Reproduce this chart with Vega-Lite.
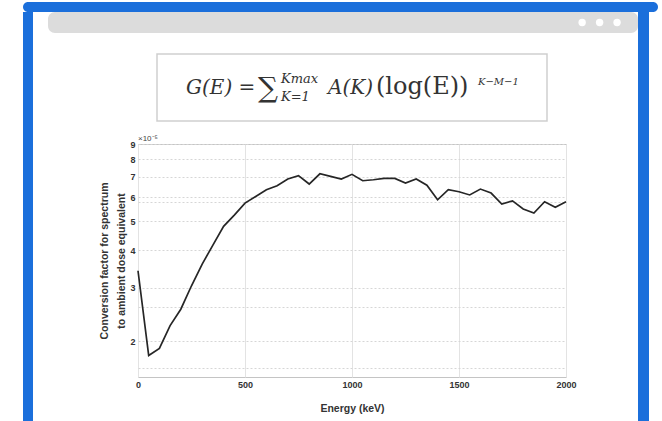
{
  "$schema": "https://vega.github.io/schema/vega-lite/v6.json",
  "background": "white",
  "padding": {"left": 23, "top": 2, "right": 0, "bottom": 0},
  "config": {
    "view": {"stroke": null},
    "font": "Liberation Sans",
    "concat": {"spacing": 0}
  },
  "spacing": 0,
  "vconcat": [
    {"width": 635, "height": 10, "view": {"fill": "#1b6fdb", "cornerRadius": 5}, "data": {"values": [{}]}, "mark": {"type": "point", "opacity": 0}},
    {
      "spacing": 0,
      "hconcat": [
        {"width": 10, "height": 409, "view": {"fill": "#1b6fdb"}, "data": {"values": [{}]}, "mark": {"type": "point", "opacity": 0}},
        {
          "spacing": 0,
          "vconcat": [
            {
              "spacing": 0,
              "hconcat": [
                {"width": 12, "height": 21, "data": {"values": [{}]}, "mark": {"type": "point", "opacity": 0}},
                {
                  "width": 590, "height": 21,
                  "view": {"fill": "#dcdcdc", "cornerRadius": 7},
                  "data": {"values": [{"dot": 1}, {"dot": 2}, {"dot": 3}]},
                  "mark": {"type": "circle", "color": "white", "opacity": 1, "size": 55},
                  "encoding": {"x": {"field": "dot", "type": "quantitative", "scale": {"domain": [-29.6, 4.2], "nice": false, "zero": false}, "axis": null}}
                }
              ]
            },
            {"width": 1, "height": 20, "data": {"values": [{}]}, "mark": {"type": "point", "opacity": 0}},
            {
              "spacing": 0,
              "hconcat": [
                {"width": 120, "height": 67, "data": {"values": [{}]}, "mark": {"type": "point", "opacity": 0}},
                {
                  "width": 390, "height": 67,
                  "view": {"stroke": "#cfcfcf", "strokeWidth": 1.5},
                  "data": {"values": [{}]},
                  "layer": [
                    {"mark": {"type": "text", "text": "G(E) =", "align": "left", "baseline": "alphabetic", "dx": -166, "dy": 6.5, "font": "DejaVu Serif", "fontStyle": "italic", "fontSize": 20, "color": "#333"}},
                    {"mark": {"type": "text", "text": "∑", "align": "left", "baseline": "alphabetic", "dx": -94, "dy": 9, "font": "DejaVu Serif", "fontSize": 28, "color": "#333"}},
                    {"mark": {"type": "text", "text": "Kmax", "align": "left", "baseline": "alphabetic", "dx": -71, "dy": -4.5, "font": "DejaVu Serif", "fontStyle": "italic", "fontSize": 13, "color": "#333"}},
                    {"mark": {"type": "text", "text": "K=1", "align": "left", "baseline": "alphabetic", "dx": -71, "dy": 13.5, "font": "DejaVu Serif", "fontStyle": "italic", "fontSize": 13, "color": "#333"}},
                    {"mark": {"type": "text", "text": "A(K)", "align": "left", "baseline": "alphabetic", "dx": -24, "dy": 6.5, "font": "DejaVu Serif", "fontStyle": "italic", "fontSize": 20, "color": "#333"}},
                    {"mark": {"type": "text", "text": "(log(E))", "align": "left", "baseline": "alphabetic", "dx": 24, "dy": 6.5, "font": "DejaVu Serif", "fontSize": 24, "color": "#333"}},
                    {"mark": {"type": "text", "text": "K−M−1", "align": "left", "baseline": "alphabetic", "dx": 126, "dy": -3, "font": "DejaVu Serif", "fontStyle": "italic", "fontSize": 10, "color": "#333"}}
                  ]
                }
              ]
            },
            {"width": 1, "height": 12, "data": {"values": [{}]}, "mark": {"type": "point", "opacity": 0}},
            {
              "spacing": 0,
              "hconcat": [
                {"width": 63, "height": 1, "data": {"values": [{}]}, "mark": {"type": "point", "opacity": 0}},
                {
                  "width": 428, "height": 233,
                  "view": {"stroke": "#c4c4c4"},
                  "title": {"text": "×10⁻⁵", "anchor": "start", "frame": "group", "fontSize": 8, "fontWeight": "normal", "offset": -3, "color": "#444"},
                  "data": {"values": [
                    {"energy": 0, "factor": 3.42},
                    {"energy": 50, "factor": 1.79},
                    {"energy": 100, "factor": 1.89},
                    {"energy": 150, "factor": 2.25},
                    {"energy": 200, "factor": 2.55},
                    {"energy": 250, "factor": 3.05},
                    {"energy": 300, "factor": 3.6},
                    {"energy": 350, "factor": 4.16},
                    {"energy": 400, "factor": 4.8},
                    {"energy": 450, "factor": 5.23},
                    {"energy": 500, "factor": 5.73},
                    {"energy": 550, "factor": 6.03},
                    {"energy": 600, "factor": 6.35},
                    {"energy": 650, "factor": 6.54},
                    {"energy": 700, "factor": 6.89},
                    {"energy": 750, "factor": 7.07},
                    {"energy": 800, "factor": 6.63},
                    {"energy": 850, "factor": 7.17},
                    {"energy": 900, "factor": 7.03},
                    {"energy": 950, "factor": 6.89},
                    {"energy": 1000, "factor": 7.14},
                    {"energy": 1050, "factor": 6.8},
                    {"energy": 1100, "factor": 6.85},
                    {"energy": 1150, "factor": 6.92},
                    {"energy": 1200, "factor": 6.92},
                    {"energy": 1250, "factor": 6.68},
                    {"energy": 1300, "factor": 6.89},
                    {"energy": 1350, "factor": 6.57},
                    {"energy": 1400, "factor": 5.88},
                    {"energy": 1450, "factor": 6.35},
                    {"energy": 1500, "factor": 6.25},
                    {"energy": 1550, "factor": 6.1},
                    {"energy": 1600, "factor": 6.38},
                    {"energy": 1650, "factor": 6.19},
                    {"energy": 1700, "factor": 5.69},
                    {"energy": 1750, "factor": 5.83},
                    {"energy": 1800, "factor": 5.48},
                    {"energy": 1850, "factor": 5.31},
                    {"energy": 1900, "factor": 5.79},
                    {"energy": 1950, "factor": 5.55},
                    {"energy": 2000, "factor": 5.79}
                  ]},
                  "mark": {"type": "line", "color": "#262626", "strokeWidth": 1.7},
                  "encoding": {
                    "x": {
                      "field": "energy", "type": "quantitative",
                      "scale": {"domain": [0, 2000], "nice": false},
                      "axis": {"title": "Energy (keV)", "values": [0, 500, 1000, 1500, 2000], "format": "d", "domain": false, "ticks": false, "labelFontSize": 9, "labelFontWeight": "bold", "labelColor": "#333", "labelPadding": 3, "labelFlush": false, "titleFontSize": 10.5, "titleFontWeight": "bold", "titleColor": "#333", "titlePadding": 14, "gridColor": "#e3e3e3"}
                    },
                    "y": {
                      "field": "factor", "type": "quantitative",
                      "scale": {"type": "log", "domain": [1.52, 9], "nice": false},
                      "axis": {"title": ["Conversion factor for spectrum", "to ambient dose equivalent"], "values": [1.63, 2, 2.6, 3, 4, 5, 5.8, 6, 7, 8, 9], "labelExpr": "datum.value % 1 == 0 ? format(datum.value, 'd') : ''", "domain": false, "ticks": false, "labelFontSize": 9, "labelFontWeight": "bold", "labelColor": "#333", "labelPadding": 3, "labelFlush": false, "titleFontSize": 10.5, "titleFontWeight": "bold", "titleColor": "#333", "titlePadding": 3, "titleLineHeight": 17, "gridColor": "#d6d6d6", "gridDash": [2, 2]}
                    }
                  }
                }
              ]
            }
          ]
        },
        {"width": 11, "height": 409, "view": {"fill": "#1b6fdb"}, "data": {"values": [{}]}, "mark": {"type": "point", "opacity": 0}}
      ]
    }
  ]
}
